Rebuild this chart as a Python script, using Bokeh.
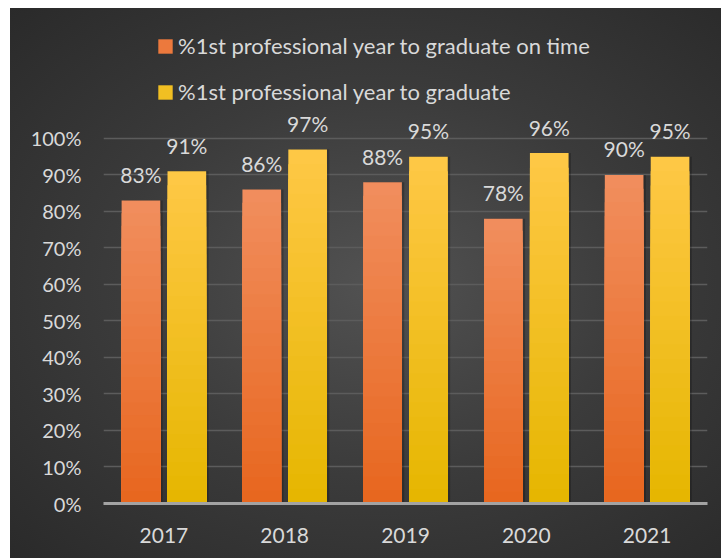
from bokeh.plotting import figure
from bokeh.models import (ColumnDataSource, FactorRange, Range1d, NumeralTickFormatter,
                          Legend, LegendItem)
from bokeh.transform import dodge
from bokeh.core.properties import value
from bokeh.embed import file_html
from bokeh.resources import INLINE

# ---------------- data ----------------
years = ["2017", "2018", "2019", "2020", "2021"]
on_time = [0.83, 0.86, 0.88, 0.78, 0.90]
graduate = [0.91, 0.97, 0.95, 0.96, 0.95]
series_names = ["%1st professional year to graduate on time",
                "%1st professional year to graduate"]
y_ticks = [0.0, 0.1, 0.2, 0.3, 0.4, 0.5, 0.6, 0.7, 0.8, 0.9, 1.0]

# ---------------- style ----------------
FONT = "Lato"
TXT = "#d9d9d9"
ORANGE_TOP, ORANGE_BOT = (241, 142, 94), (231, 102, 30)
YELLOW_TOP, YELLOW_BOT = (255, 200, 70), (229, 182, 0)
N_STEPS = 24
OFFSET = 0.19
BAR_W = 0.32


def mix(c_top, c_bot, f):
    return "#%02x%02x%02x" % tuple(int(round(b + (t - b) * f)) for t, b in zip(c_top, c_bot))


p = figure(x_range=FactorRange(*years, range_padding=0),
           y_range=Range1d(0, 1.356),
           width=711, height=550, output_backend="svg", toolbar_location=None,
           min_border_left=93, min_border_right=14, min_border_top=0,
           min_border_bottom=55)
p.margin = (8, 3, 0, 10)
p.styles = {"background": "radial-gradient(ellipse farthest-corner at 52% 50%, #525252 0%, #3b3b3b 50%, #2a2a2a 100%)"}
p.background_fill_alpha = 0
p.border_fill_alpha = 0
p.outline_line_color = None

src = ColumnDataSource(dict(years=years, on_time=on_time, graduate=graduate,
                            on_time_lbl=["%d%%" % round(v * 100) for v in on_time],
                            graduate_lbl=["%d%%" % round(v * 100) for v in graduate]))

legend_items = []
for field, off, ctop, cbot, name in [("on_time", -OFFSET, ORANGE_TOP, ORANGE_BOT, series_names[0]),
                                     ("graduate", OFFSET, YELLOW_TOP, YELLOW_BOT, series_names[1])]:
    xs = dodge("years", off, range=p.x_range)
    # soft shadow
    p.vbar(x=dodge("years", off + 0.02, range=p.x_range), top=field, width=BAR_W,
           source=src, fill_color="black", fill_alpha=0.22, line_color=None)
    mid_r = None
    # vertical gradient drawn as nested bars (tallest first)
    for j in range(N_STEPS):
        frac = (N_STEPS - j) / N_STEPS
        col = mix(ctop, cbot, frac - 0.5 / N_STEPS)
        scaled = [v * frac for v in src.data[field]]
        s2 = ColumnDataSource(dict(years=years, top=scaled))
        r = p.vbar(x=dodge("years", off, range=p.x_range), top="top", width=BAR_W,
                   source=s2, fill_color=col, line_color=None)
        if j == N_STEPS // 2:
            mid_r = r
    legend_items.append(LegendItem(label=name, renderers=[mid_r]))
    p.text(x=xs, y=field, text=field + "_lbl", source=src, text_align="center",
           text_baseline="alphabetic", y_offset=-26, text_color=TXT,
           text_font=value(FONT), text_font_size="21px")

legend = Legend(items=legend_items, location=(53, 398), orientation="vertical",
                glyph_width=18, glyph_height=18, label_standoff=4, spacing=19,
                padding=0, margin=0, border_line_color=None, background_fill_alpha=0,
                label_text_color=TXT, label_text_font=FONT, label_text_font_size="22px")
p.add_layout(legend, "center")

# axes & grid
p.yaxis.ticker = y_ticks
p.yaxis.formatter = NumeralTickFormatter(format="0%")
p.yaxis.axis_line_color = None
p.yaxis.major_tick_line_color = None
p.yaxis.minor_tick_line_color = None
p.yaxis.major_label_standoff = 16
p.yaxis.major_label_text_color = TXT
p.yaxis.major_label_text_font = FONT
p.yaxis.major_label_text_font_size = "20px"

p.xaxis.axis_line_color = "#a3a3a3"
p.xaxis.axis_line_width = 3
p.xaxis.major_tick_line_color = None
p.xaxis.minor_tick_line_color = None
p.xaxis.major_label_standoff = 18
p.xaxis.major_label_text_color = TXT
p.xaxis.major_label_text_font = FONT
p.xaxis.major_label_text_font_size = "21px"

p.xgrid.grid_line_color = None
p.ygrid.grid_line_color = "#5c5c5c"
p.ygrid.grid_line_width = 1.5

open("out.html", "w").write(file_html(p, INLINE))
